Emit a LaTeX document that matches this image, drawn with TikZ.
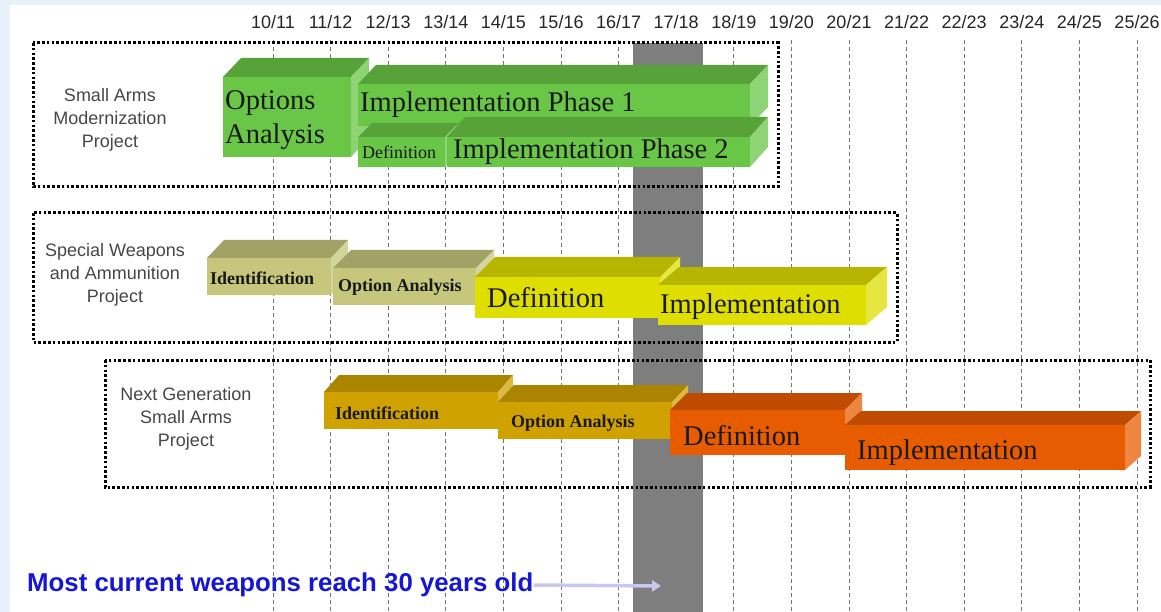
\documentclass[tikz,border=0pt]{standalone}
\usepackage{fontspec}
\setmainfont{Liberation Serif}
\setsansfont{Liberation Sans}
\usetikzlibrary{arrows.meta,fit}
\definecolor{SlideBlue}{RGB}{232,240,250}
\definecolor{BandGrey}{RGB}{126,126,126}
\definecolor{SAMgreen}{RGB}{106,198,70}
\definecolor{SWkhaki}{RGB}{198,198,124}
\definecolor{SWyellow}{RGB}{222,222,0}
\definecolor{NGgold}{RGB}{208,162,0}
\definecolor{NGorange}{RGB}{232,92,0}
\definecolor{NoteBlue}{RGB}{22,22,215}
\definecolor{ArrowLilac}{RGB}{200,200,242}

\newcommand{\slab}[8]{%
  \fill[#6!82!black] (#2,#3) -- ++(#7,-#8) -- ++(#4-#2,0) -- (#4,#3) -- cycle;
  \fill[#6!75!white] (#4,#3) -- ++(#7,-#8) -- ++(0,#5-#3) -- (#4,#5) -- cycle;
  \node[slab, fill=#6, fit={(#2,#3) (#4,#5)}] (#1) {};}

\begin{document}
\begin{tikzpicture}[x=1pt, y=-1pt,
    year/.style={font=\sffamily\fontsize{18}{18}\selectfont, text=black!85},
    proj/.style={font=\sffamily\fontsize{18}{23}\selectfont, text=black!72, align=center},
    phase/.style={font=\fontsize{28.5}{34}\selectfont, text=black!90, inner sep=0, anchor=west, align=left},
    smallphase/.style={font=\bfseries\fontsize{18}{20}\selectfont, text=black!90, inner sep=0, anchor=west},
    slab/.style={inner sep=0, draw=none},
    projbox/.style={draw, line width=3pt, dash pattern=on 2.6pt off 2.2pt},
    yearline/.style={draw=black!55, line width=0.7pt, dash pattern=on 4pt off 3pt},
    note/.style={font=\sffamily\bfseries\fontsize{25.8}{26}\selectfont, text=NoteBlue, inner sep=0},
    notearrow/.style={-{Triangle[length=9pt,width=11pt]}, draw=ArrowLilac, line width=3.5pt}
]
    \useasboundingbox (0,0) rectangle (1161,612);
    \fill[SlideBlue] (0,0) rectangle (1161,612);
    \fill[white] (10,5) rectangle (1161,612);

    \foreach \yr [count=\i from 0] in {10,...,25}{
        \pgfmathtruncatemacro{\nyr}{\yr+1}
        \draw[yearline] (273+57.6*\i,40) -- (273+57.6*\i,612);
        \node[year] (yr\i) at (273+57.6*\i,22) {\yr/\nyr};
    }
    \fill[BandGrey] (633,43) rectangle (703,612);

    \draw[projbox] (33,43) rectangle (778,187);
    \draw[projbox] (33,213) rectangle (897,342);
    \draw[projbox] (105,360) rectangle (1150,487);

    \node[proj] (sam) at (110,120) {Small Arms\\Modernization\\Project};
    \node[proj] (swa) at (115,275) {Special Weapons\\and Ammunition\\Project};
    \node[proj] (ngsa) at (186,419) {Next Generation\\Small Arms\\Project};

    \slab{optan}{223}{77}{351}{157}{SAMgreen}{18}{19}
    \slab{impla}{358}{84}{750}{126}{SAMgreen}{18}{19}
    \slab{defa}{358}{137}{445}{167}{SAMgreen}{14}{14}
    \slab{implb}{447}{137}{750}{167}{SAMgreen}{18}{20}
    \node[phase] (optan-t) at (225,120) {Options\\Analysis};
    \node[phase] (impla-t) at (360,105) {Implementation Phase 1};
    \node[phase, font=\fontsize{18}{20}\selectfont] (defa-t) at (362,152) {Definition};
    \node[phase] (implb-t) at (453,152) {Implementation Phase 2};

    \slab{idb}{207}{258}{331}{295}{SWkhaki}{17}{18}
    \slab{optb}{333}{268}{476}{305}{SWkhaki}{18}{18}
    \slab{defb}{475}{277}{660}{318}{SWyellow}{20}{20}
    \slab{implc}{658}{285}{866}{325}{SWyellow}{21}{18}
    \node[smallphase] (idb-t) at (210,278) {Identification};
    \node[smallphase] (optb-t) at (338,287) {Option Analysis};
    \node[phase] (defb-t) at (487,298) {Definition};
    \node[phase] (implc-t) at (660,307) {Implementation};

    \slab{idc}{324}{392}{498}{429}{NGgold}{15}{17}
    \slab{optc}{498}{402}{672}{439}{NGgold}{16}{17}
    \slab{defc}{670}{410}{845}{455}{NGorange}{17}{17}
    \slab{impld}{845}{425}{1125}{470}{NGorange}{16}{14}
    \node[smallphase] (idc-t) at (335,413) {Identification};
    \node[smallphase] (optc-t) at (511,423) {Option Analysis};
    \node[phase] (defc-t) at (683,436) {Definition};
    \node[phase] (impld-t) at (857,453) {Implementation};

    \node[note, anchor=west] (note) at (27,585) {Most current weapons reach 30 years old};
    \coordinate (band) at (661,586);
    \draw[notearrow] (note.east) -- (band);
\end{tikzpicture}
\end{document}
